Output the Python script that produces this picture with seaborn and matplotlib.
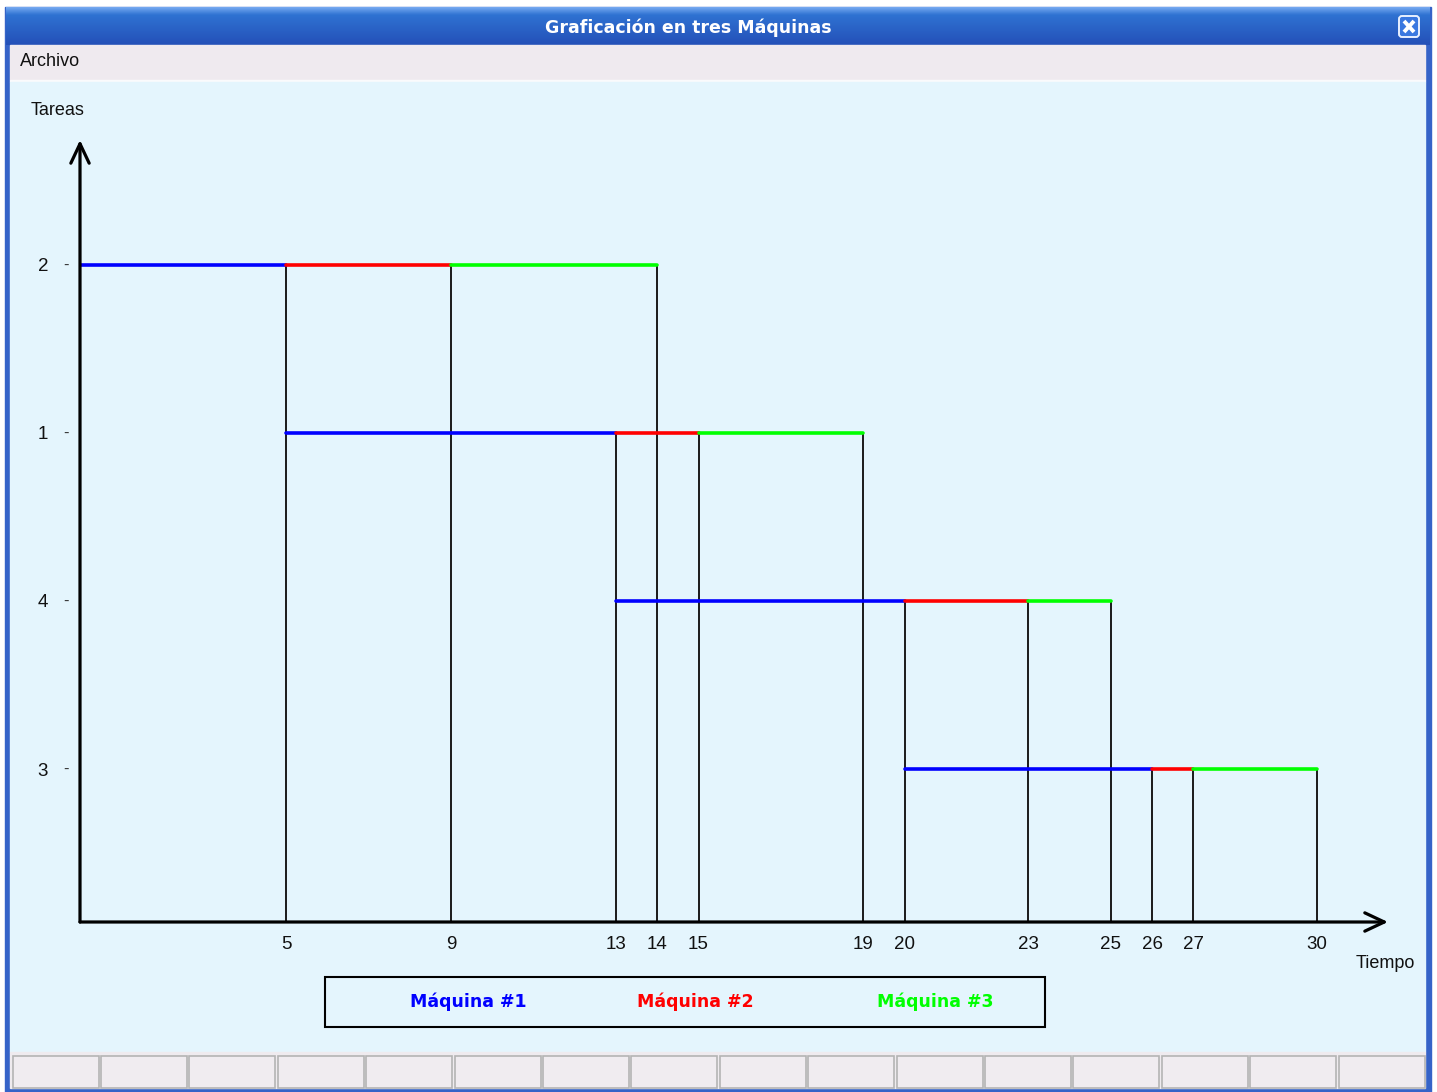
import numpy as np
import pandas as pd
import matplotlib.pyplot as plt
from matplotlib.patches import Rectangle, FancyBboxPatch
import matplotlib.colors as mcolors
import seaborn as sns

# orden de las tareas (de arriba hacia abajo)
tareas = ["2", "1", "4", "3"]
maquinas = ["Máquina #1", "Máquina #2", "Máquina #3"]
colores = ["#0000FF", "#FF0000", "#00FF00"]

# inicio y fin de cada tarea en cada maquina
inicio_m1 = [0, 5, 13, 20]
fin_m1 = [5, 13, 20, 26]
inicio_m2 = [5, 13, 20, 26]
fin_m2 = [9, 15, 23, 27]
inicio_m3 = [9, 15, 23, 27]
fin_m3 = [14, 19, 25, 30]

titulo = "Graficación en tres Máquinas"

sns.set_theme(style="white")
plt.rcParams['font.family'] = ['Liberation Sans', 'DejaVu Sans']

#armar tabla larga: un segmento por tarea y maquina
filas = []
tiempos = [(inicio_m1, fin_m1), (inicio_m2, fin_m2), (inicio_m3, fin_m3)]
for i, tarea in enumerate(tareas):
    nivel = len(tareas) - i
    for m, (ini, fin) in enumerate(tiempos):
        seg = tarea + "-" + str(m)
        filas.append(dict(segmento=seg, maquina=maquinas[m], tiempo=ini[i], nivel=nivel, punto="ini"))
        filas.append(dict(segmento=seg, maquina=maquinas[m], tiempo=fin[i], nivel=nivel, punto="fin"))
df = pd.DataFrame(filas)
finales = df[df.punto == "fin"]
marcas = sorted(set(fin_m1 + fin_m2 + fin_m3))

W, H = 1437, 1092
fig = plt.figure(figsize=(W / 100, H / 100), dpi=100, facecolor="white")

#fondo: ventana estilo XP, en coordenadas de pixel
bg = fig.add_axes([0, 0, 1, 1])
bg.set_zorder(0)
bg.add_patch(Rectangle((5, 7), 1426, 1085, color="#3563C8", zorder=0.5))
grad = np.linspace(0, 1, 40)
c_top = np.array(mcolors.to_rgb("#74A8F0"))
c_mid = np.array(mcolors.to_rgb("#2F72D2"))
c_bot = np.array(mcolors.to_rgb("#2450B8"))
rows = []
for g in grad:
    if g < 0.2:
        rows.append(c_top + (c_mid - c_top) * g / 0.2)
    else:
        rows.append(c_mid + (c_bot - c_mid) * (g - 0.2) / 0.8)
img = np.array(rows)[:, None, :]
bg.imshow(img, extent=[6, 1430, 45, 7], aspect="auto", interpolation="bilinear", zorder=1.5)
bg.add_patch(Rectangle((10, 45), 1415, 35, color="#EFEAEF", zorder=2))
bg.add_patch(Rectangle((10, 80), 1415, 2, color="#FAFAFC", zorder=2))
bg.add_patch(Rectangle((10, 82), 1415, 970, color="#E4F5FD", zorder=2))
bg.add_patch(Rectangle((10, 1052), 1415, 36, color="#EFEBEF", zorder=2))
for k in range(16):
    x0 = 12.5 + 88.4 * k
    bg.add_patch(Rectangle((x0, 1056), 86, 32, facecolor="#F0ECF0",
                           edgecolor="#B4B4B4", lw=1.2, zorder=3))
#boton cerrar
bg.add_patch(FancyBboxPatch((1399, 16), 20, 21, boxstyle="round,pad=0,rounding_size=3",
                            facecolor="#3A78E0", edgecolor="#E8F0FF", lw=1.4, zorder=3))
bg.plot([1404, 1414], [21, 32], color="white", lw=2.8, solid_capstyle="butt", zorder=4)
bg.plot([1404, 1414], [32, 21], color="white", lw=2.8, solid_capstyle="butt", zorder=4)
bg.text(688, 28, titulo, color="white", ha="center", va="center",
        fontsize=12.5, fontweight="bold", family="DejaVu Sans", zorder=4)
bg.text(20, 62, "Archivo", ha="left", va="center", fontsize=13, color="#111111", zorder=4)

#leyenda
bg.add_patch(Rectangle((325, 977), 720, 50, fill=False, edgecolor="black", lw=1.5, zorder=4))
for texto, color, xc in zip(maquinas, colores, [468, 695, 935]):
    bg.text(xc, 1002, texto, color=color, ha="center", va="center",
            fontsize=12.5, fontweight="bold", family="DejaVu Sans", zorder=4)
bg.set_xlim(0, W)
bg.set_ylim(H, 0)
bg.axis("off")

#grafica principal
ax = fig.add_axes([80 / W, (H - 922) / H, 1308 / W, 782 / H])
ax.set_zorder(2)
ax.set_facecolor("none")

ybot, ytop = 0.0893, 4.744
ax.vlines(finales.tiempo, ybot, finales.nivel, color="#1A1A1A", lw=1.4, zorder=1)
sns.lineplot(data=df, x="tiempo", y="nivel", hue="maquina", units="segmento",
             estimator=None, sort=False, palette=colores, hue_order=maquinas,
             lw=2.6, legend=False, ax=ax, zorder=2)

ax.set_xlim(0, 31.72)
ax.set_ylim(ybot, ytop)
for s in ax.spines.values():
    s.set_visible(False)

#ejes con flecha
flecha = dict(arrowstyle="->,head_length=0.7,head_width=0.33", lw=2.3,
              color="black", shrinkA=0, shrinkB=0, mutation_scale=20)
ax.annotate("", xy=(1, 0), xytext=(0, 0), xycoords="axes fraction", arrowprops=flecha)
ax.annotate("", xy=(0, 1), xytext=(0, 0), xycoords="axes fraction", arrowprops=flecha)

ax.set_xticks(marcas)
ax.set_xticklabels([str(t) for t in marcas])
niveles = [len(tareas) - i for i in range(len(tareas))]
ax.set_yticks(niveles)
ax.set_yticklabels(tareas)
ax.tick_params(axis="x", length=0, pad=10, labelsize=13.5, labelcolor="#111111")
ax.tick_params(axis="y", length=0, pad=23, labelsize=13.5, labelcolor="#111111")
for lab in ax.get_xticklabels():
    lab.set_x(lab.get_position()[0])
for n in niveles:
    ax.text(-0.0107, n, "-", transform=ax.get_yaxis_transform(), ha="center",
            va="center", fontsize=12, color="#333333")

ax.set_xlabel("Tiempo", fontsize=13, color="#111111", va="center")
ax.xaxis.set_label_coords(0.9977, -0.0537)
ax.set_ylabel("Tareas", fontsize=13, color="#111111", rotation=0, ha="center", va="center")
ax.yaxis.set_label_coords(-0.0168, 1.038)

plt.savefig("out.png", dpi=100, facecolor=fig.get_facecolor())
